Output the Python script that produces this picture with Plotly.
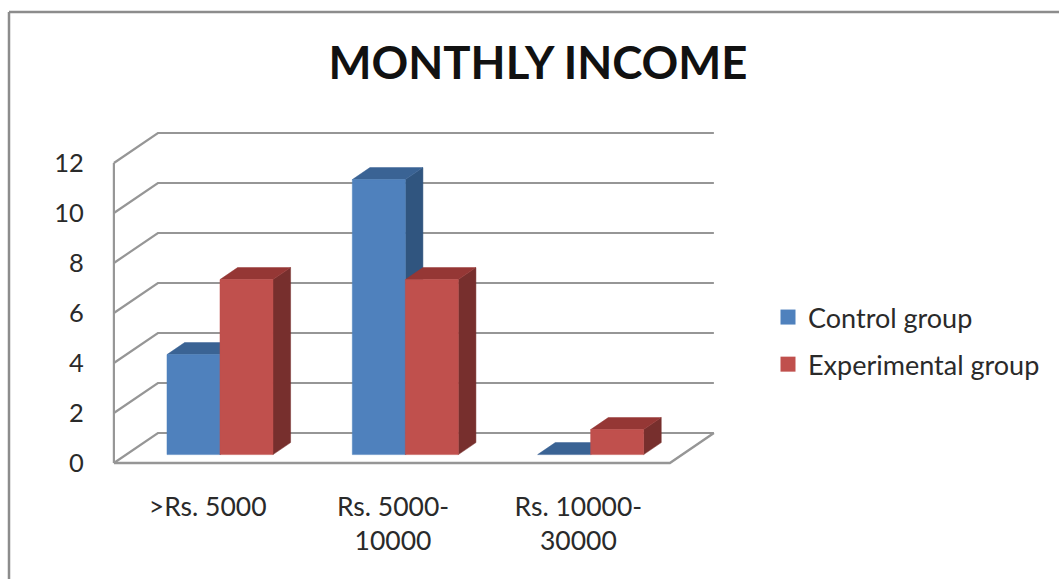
import plotly.graph_objects as go

categories = [">Rs. 5000", "Rs. 5000-<br>10000", "Rs. 10000-<br>30000"]
control_group = [4, 11, 0]
experimental_group = [7, 7, 1]
y_ticks = [0, 2, 4, 6, 8, 10, 12]
title_text = "MONTHLY INCOME"

W, H = 1059, 579
L, R, T, B = 100, 730, 125, 475   # plot area in pixels
X_ORIGIN_PX, Y_ZERO_PX = 115, 463
PX_PER_CAT = 185.33
PX_PER_UNIT = 25.0
DEPTH_X = 44 / PX_PER_CAT
DEPTH_Y = 30 / PX_PER_UNIT
BAR_W = 53 / PX_PER_CAT
BAR_D0, BAR_D1 = 0.28, 0.68
GRID = "#969696"
TXT = "#2a2a2a"
FONT = "Lato, Carlito, sans-serif"


def p(x, v, d=0.0):
    return x + d * DEPTH_X, v + d * DEPTH_Y


def poly(pts, color):
    xs, ys = zip(*[p(*q) for q in pts + pts[:1]])
    return go.Scatter(x=list(xs), y=list(ys), mode="lines", fill="toself", fillcolor=color,
                      line=dict(color=color, width=0.5), showlegend=False, hoverinfo="skip")


def seg(pts, width=2.2):
    xs, ys = zip(*[p(*q) for q in pts])
    return go.Scatter(x=list(xs), y=list(ys), mode="lines", line=dict(color=GRID, width=width),
                      showlegend=False, hoverinfo="skip")


x0, x1 = -0.5, 2.5
wx0, wx1 = x0 - 0.006, x1 - 0.006
fig = go.Figure()

# walls and floor
for v in y_ticks:
    fig.add_trace(seg([(wx0, v, 0), (wx0, v, 1), (wx1, v, 1)]))
fig.add_trace(seg([(wx0, y_ticks[0], 0), (wx0, y_ticks[-1], 0)], 2.2))
fig.add_trace(seg([(wx0, 0, 0), (wx1, 0, 0), (wx1, 0, 1)], 2.4))


def add_bar(left, val, front, top, side):
    right = left + BAR_W
    a, b = BAR_D0, BAR_D1
    if val > 0:
        fig.add_trace(poly([(right, 0, a), (right, 0, b), (right, val, b), (right, val, a)], side))
    fig.add_trace(poly([(left, val, a), (right, val, a), (right, val, b), (left, val, b)], top))
    if val > 0:
        fig.add_trace(poly([(left, 0, a), (right, 0, a), (right, val, a), (left, val, a)], front))


for i in range(len(categories)):
    add_bar(i - BAR_W, control_group[i], "#4F81BD", "#3A6394", "#30557F")
    add_bar(i, experimental_group[i], "#C0504D", "#953735", "#772F2D")

# legend keys
for name, c, grp in [("Control group", "#4F81BD", "a"), ("Experimental group", "#C0504D", "b")]:
    fig.add_trace(go.Scatter(x=[None], y=[None], mode="markers", name=name, legendgroup=grp,
                             marker=dict(symbol="square", size=15, color=c)))

x_lo = x0 - (X_ORIGIN_PX - L) / PX_PER_CAT
x_hi = x0 + (R - X_ORIGIN_PX) / PX_PER_CAT
y_lo = -(B - Y_ZERO_PX) / PX_PER_UNIT
y_hi = (Y_ZERO_PX - T) / PX_PER_UNIT


def px_x(v):
    return (v - L) / (R - L)


def px_y(v):
    return (B - v) / (B - T)


fig.update_layout(
    width=W, height=H, autosize=False,
    margin=dict(l=L, r=W - R, t=T, b=H - B, pad=0),
    paper_bgcolor="white", plot_bgcolor="white",
    font=dict(family=FONT, size=26, color=TXT),
    title=dict(text=title_text, x=538 / W, y=1 - 63 / H, xanchor="center", yanchor="middle",
               font=dict(family=FONT, size=45.5, color="#111111", weight="bold")),
    xaxis=dict(range=[x_lo, x_hi], tickmode="array", tickvals=list(range(3)),
               ticktext=categories, showgrid=False, zeroline=False, showline=False,
               ticks="outside", ticklen=8, tickcolor="rgba(0,0,0,0)", tickfont=dict(size=26.5)),
    yaxis=dict(range=[y_lo, y_hi], tickmode="array", tickvals=y_ticks,
               showgrid=False, zeroline=False, showline=False,
               ticks="outside", ticklen=10, tickcolor="rgba(0,0,0,0)", tickfont=dict(size=25.5)),
    legend=dict(x=px_x(768), y=px_y(293), xanchor="left", yanchor="top",
                traceorder="grouped", tracegroupgap=9, font=dict(size=27),
                bgcolor="rgba(0,0,0,0)"),
    shapes=[dict(type="line", xref="paper", yref="paper",
                 x0=px_x(9), x1=px_x(9), y0=px_y(12), y1=px_y(H),
                 line=dict(color="#8c8c8c", width=2.5)),
            dict(type="line", xref="paper", yref="paper",
                 x0=px_x(9), x1=px_x(W), y0=px_y(12), y1=px_y(12),
                 line=dict(color="#8c8c8c", width=2.5))],
)
fig.write_html("out.html", config=dict(displayModeBar=False),
               post_script="document.body.style.margin='0';")
